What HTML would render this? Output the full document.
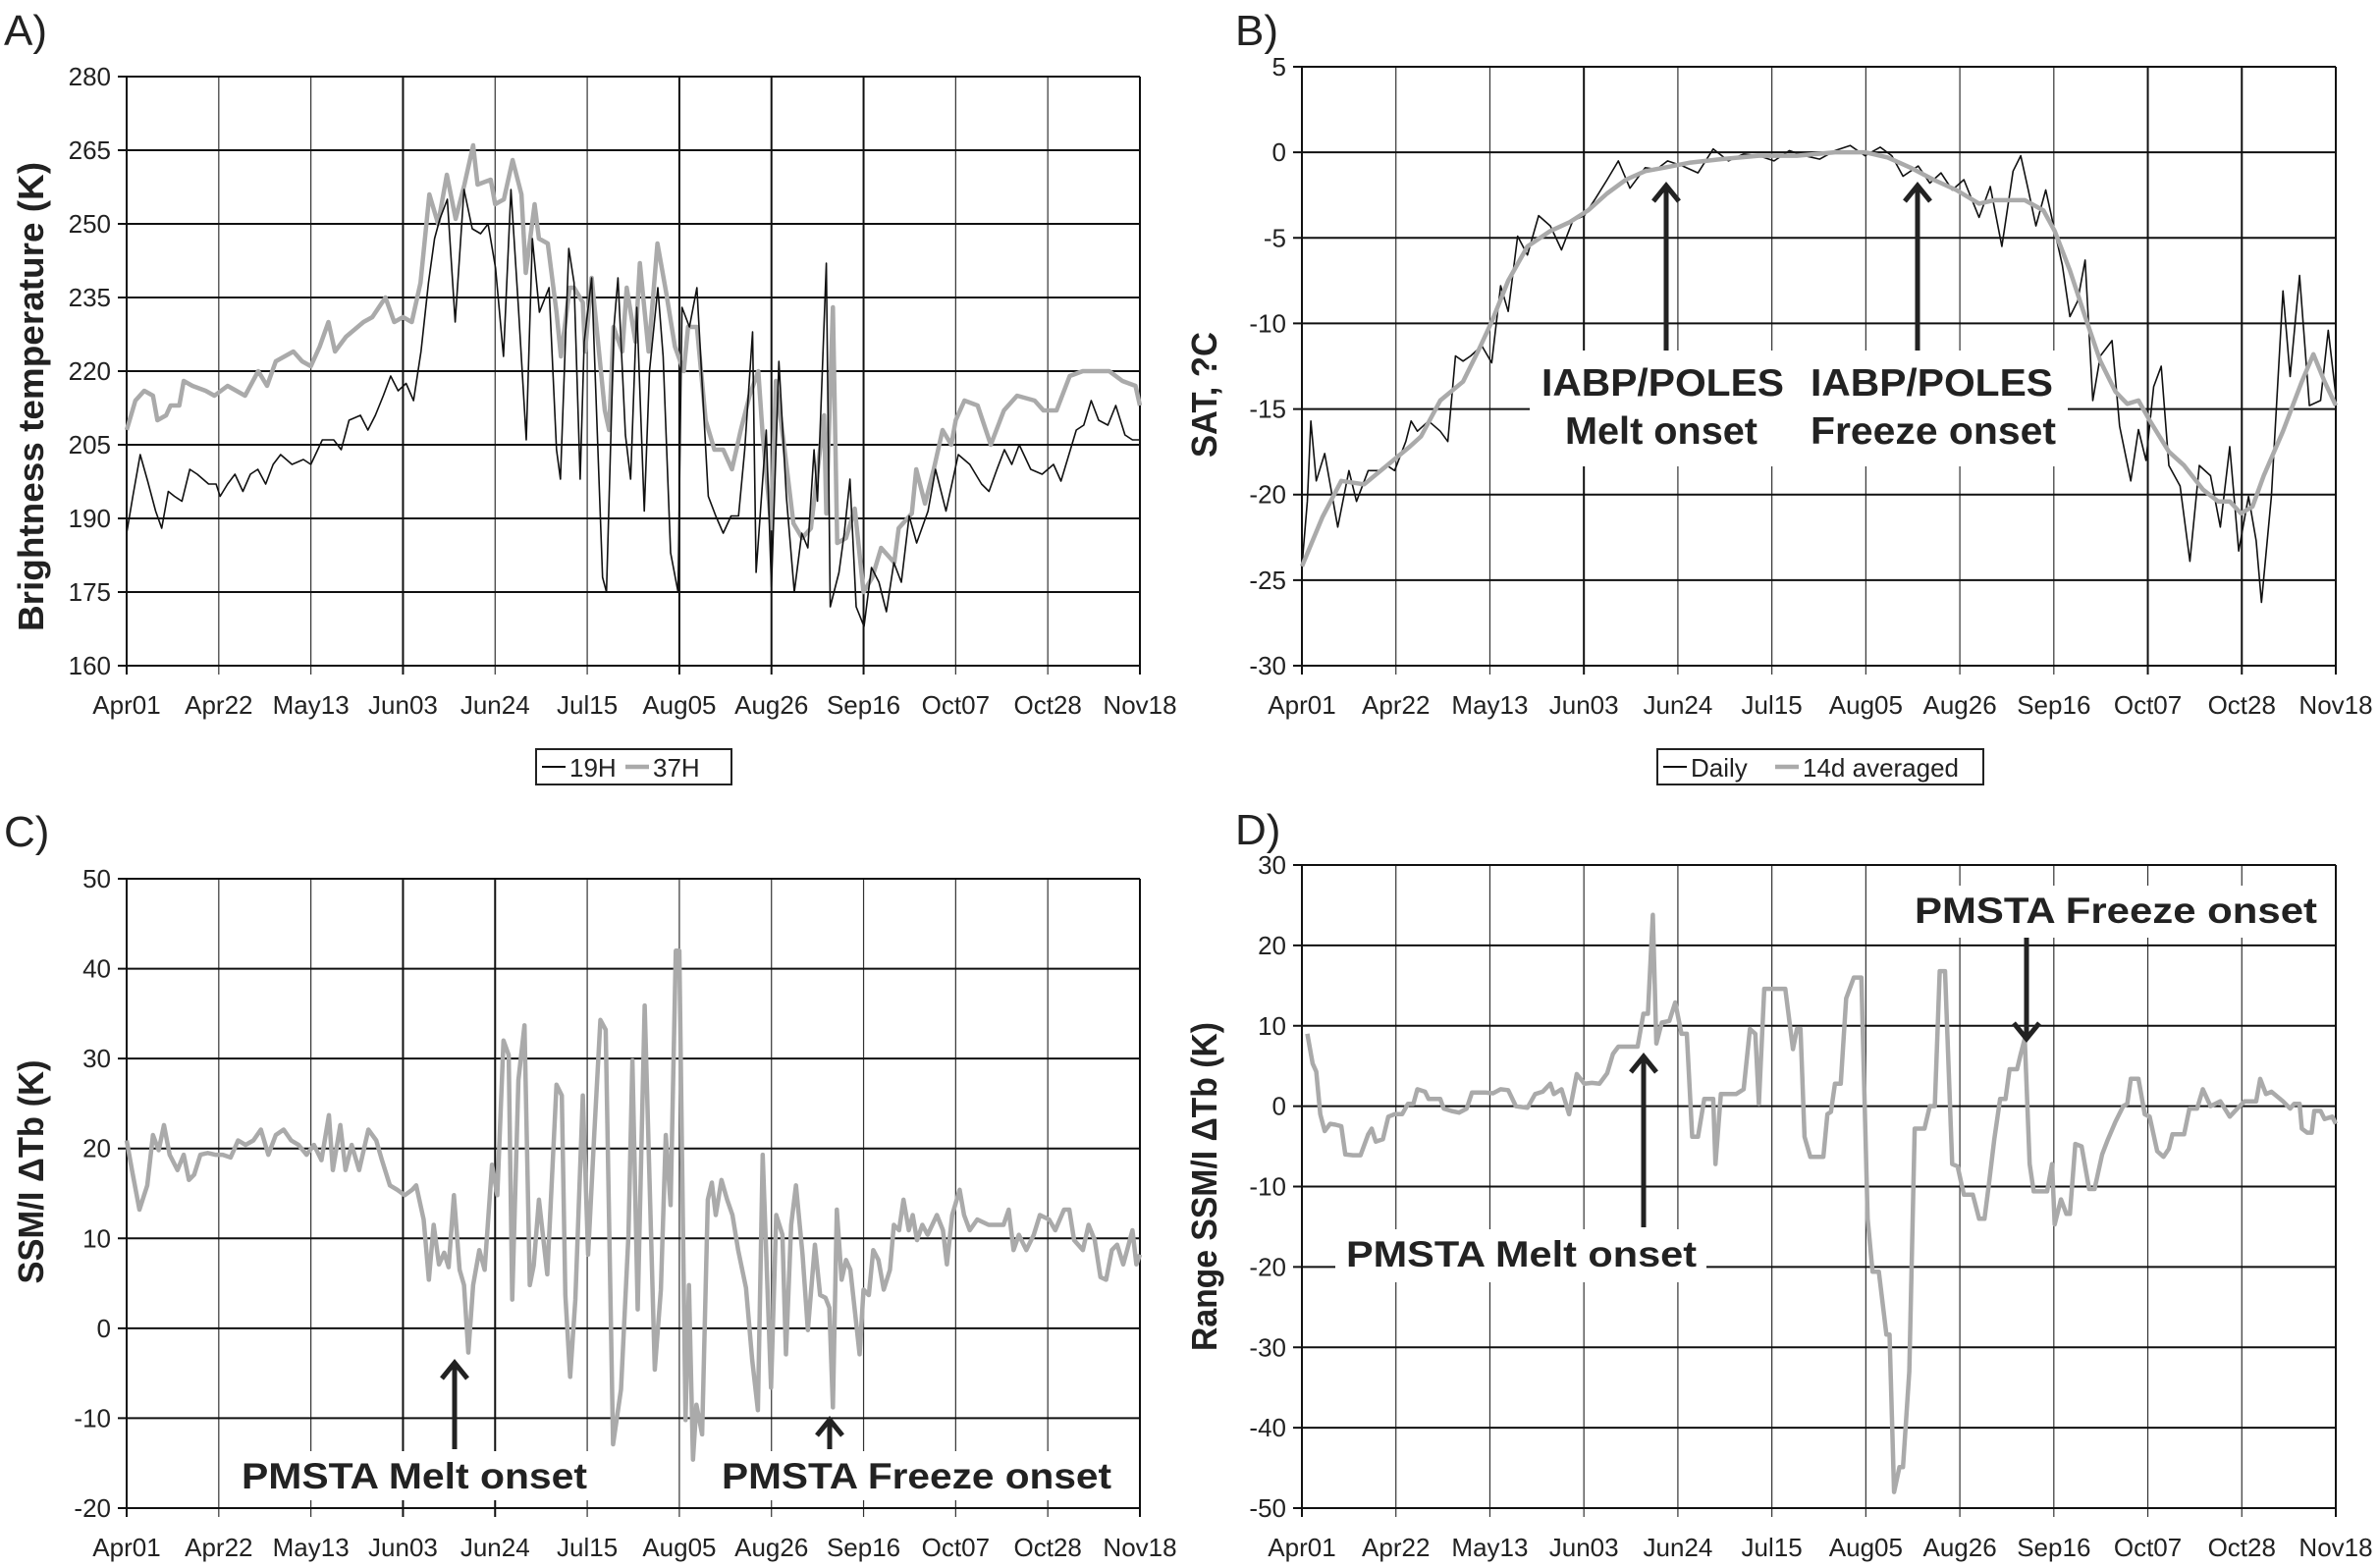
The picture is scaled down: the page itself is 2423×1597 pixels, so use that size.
<!DOCTYPE html>
<html><head><meta charset="utf-8">
<style>
html,body{margin:0;padding:0;background:#fff;}
svg{display:block;font-family:"Liberation Sans",Arial,sans-serif;}
</style></head>
<body>
<svg id="fig" width="2423" height="1597" viewBox="0 0 2423 1597" xmlns="http://www.w3.org/2000/svg"></svg>
<script>
// ---------- shared axis data ----------
const xTickDays = [0,21,42,63,84,105,126,147,168,189,210,231];
const xTickLabels = ['Apr01','Apr22','May13','Jun03','Jun24','Jul15','Aug05','Aug26','Sep16','Oct07','Oct28','Nov18'];
const xDayMax = 231;

// ---------- Panel A: brightness temperature ----------
const aTicks = [160,175,190,205,220,235,250,265,280];
const a19H = [[0,187],[1.4,194.5],[3.1,203],[4.8,197.6],[6.6,191.5],[8,188],[9.5,195.5],[10.9,194.5],[12.6,193.5],[14.4,200],[16.1,199],[18.7,197],[20.4,197],[21.3,194.5],[23,197],[24.7,199],[26.5,195.5],[28.2,199],[29.9,200],[31.7,197],[33.4,201],[35.1,203],[37.7,201],[40.3,202],[42,201],[44.6,206],[47.2,206],[48.9,204],[50.7,210],[53.3,211],[55,208],[56.7,211],[58.5,215],[60.2,219],[61.9,216],[63.7,217.5],[65.4,214],[67.1,224],[68.8,238],[70.2,247],[71.4,251],[73.1,255],[74.9,230],[76.9,257],[78.8,249],[80.7,248],[82.4,250],[84.1,241],[85.9,223],[87.6,257],[89.3,233],[91.1,206],[92.5,247],[94.1,232],[96.3,237],[98,204],[98.9,198],[100.8,245],[102,238],[103.4,198],[104.3,226],[106,239],[108.5,178],[109.4,175],[111.1,229],[112,239],[113.7,207],[114.9,198],[116.3,233],[118,191.5],[119.2,220],[121.1,237],[122.3,223],[124,183],[125.7,175],[126.6,233],[128.3,229],[130,237],[132.6,194.5],[134.3,190.5],[136,187],[137.8,190.5],[139.5,190.5],[140.9,204],[142.7,228],[143.5,179],[145.8,208],[147,176],[148.7,222],[150.4,194.5],[152.2,175],[153.9,187],[155.3,184],[156.7,204],[157.5,193.5],[159.5,242],[160.4,172],[162.4,179],[163.6,187],[164.9,198],[166.3,172],[168.1,168],[169.8,180],[171.5,177],[173.2,171],[174.9,181],[176.6,177],[178.4,190.5],[180.1,185],[182.7,191.5],[184.4,200],[186.8,191.5],[189.6,203],[192.2,201],[194.9,197],[196.6,195.5],[198.4,200],[200.1,204],[201.8,201],[203.5,205],[206.1,200],[208.7,199],[211.3,201],[213,197.6],[216.5,208],[218.2,209],[219.9,214],[221.6,210],[223.7,209],[225.5,213],[227.6,207],[229.3,206],[231,206]];
const a37H = [[0,208],[2,214],[4,216],[6,215],[7,210],[9,211],[10,213],[12,213],[13,218],[15,217],[18,216],[20,215],[23,217],[27,215],[30,220],[32,217],[34,222],[38,224],[40,222],[42,221],[44,225],[46,230],[47.5,224],[50,227],[54,230],[56,231],[59,235],[61,230],[63,231],[65,230],[67,238],[69,256],[71,250],[73,260],[75,251],[77,258],[79,266],[80,258],[83,259],[84,254],[86,255],[88,263],[90,256],[91,240],[93,254],[94,247],[96,246],[98,232],[99,223],[101,237],[102,237],[104,234],[104.5,224],[106,239],[109,212],[110,208],[111,229],[113,224],[114,237],[116,226],[117,242],[119,224],[121,246],[123,236],[125,225],[127,220],[128,229],[130,229],[132,210],[134,204],[136,204],[138,200],[140,208],[142,215],[144,220],[145,207],[147,188],[148,218],[150,204],[152,189],[154,186],[156,188],[159,211],[159.5,191],[161,233],[162,185],[164,186],[166,192],[168,175],[170,178],[172,184],[175,181],[176,188],[179,191],[180,200],[182,193],[184,200],[186,208],[188,205],[189,210],[191,214],[194,213],[197,205],[200,212],[203,215],[207,214],[209,212],[212,212],[215,219],[218,220],[220,220],[224,220],[227,218],[230,217],[231,213]];

// ---------- Panel B: SAT ----------
const bTicks = [-30,-25,-20,-15,-10,-5,0,5];
const bDaily = [[0,-24.2],[1.2,-20.4],[2,-15.7],[3.2,-19.2],[5.1,-17.6],[8,-21.9],[10.5,-18.6],[12.2,-20.4],[14.8,-18.6],[17.3,-18.6],[19,-18.3],[20.7,-18.6],[23.2,-16.9],[24.4,-15.7],[25.8,-16.3],[28.3,-15.7],[30.9,-16.3],[32.6,-16.9],[34.3,-11.9],[36,-12.2],[37.7,-11.9],[40.2,-11.3],[42.4,-12.3],[44.4,-7.8],[46.1,-9.3],[48.2,-4.9],[50.4,-6],[52.9,-3.7],[55.5,-4.3],[58,-5.7],[60.5,-4],[63.1,-3.7],[65.6,-2.7],[68.2,-1.6],[70.7,-0.5],[73.3,-2.1],[76.7,-0.9],[79.2,-1],[81.7,-0.5],[85.1,-0.8],[88.5,-1.2],[91.9,0.2],[95.3,-0.5],[98.7,-0.1],[102.1,-0.2],[105.5,-0.5],[108.9,0.1],[112.3,-0.2],[115.7,-0.4],[119.1,0.1],[122.5,0.4],[125.8,-0.2],[129.2,0.3],[131.8,-0.2],[134.3,-1.4],[137.7,-0.8],[140.3,-1.8],[142.8,-1.2],[145.3,-2.2],[147.9,-1.6],[151.3,-3.8],[153.8,-2],[156.4,-5.5],[158.9,-1.1],[160.6,-0.2],[162.3,-2.2],[164,-4.3],[166.2,-2.2],[168.2,-4.6],[169.9,-6.6],[171.6,-9.6],[173.3,-8.7],[175,-6.3],[176.7,-14.5],[178.4,-11.9],[181,-11],[182.7,-16],[185.2,-19.2],[186.9,-16.2],[188.6,-18],[190.3,-13.7],[192,-12.5],[193.7,-18.3],[196.2,-19.5],[198.4,-23.9],[200.5,-18.3],[203,-18.9],[205.2,-21.9],[207.3,-17.2],[209.3,-23.3],[211.5,-20.1],[213.2,-22.7],[214.4,-26.3],[216.6,-20.1],[219.2,-8.1],[220.8,-13.1],[222.9,-7.2],[225.1,-14.8],[227.6,-14.5],[229.3,-10.4],[231,-14.2]];
const b14d = [[0,-24.2],[4.6,-21.3],[8.8,-19.2],[13.9,-19.4],[19,-18.3],[24.1,-17.2],[26.6,-16.6],[30.9,-14.5],[36,-13.4],[39.4,-11.6],[42.4,-9.9],[46.1,-7.5],[50.4,-5.5],[55.5,-4.6],[59.7,-4.1],[63.9,-3.4],[68.2,-2.4],[72.4,-1.6],[76.7,-1.1],[80.9,-0.9],[86.8,-0.6],[93.6,-0.4],[102.1,-0.2],[110.6,-0.2],[119.1,0],[125.8,0],[130.9,-0.3],[136,-0.9],[141.1,-1.6],[146.2,-2.2],[151.3,-3],[154.7,-2.8],[161.5,-2.8],[165.7,-3.4],[168.2,-4.6],[171.6,-6.9],[175,-9.6],[178.4,-12.2],[181.8,-14],[184.4,-14.7],[186.9,-14.5],[189.5,-15.7],[193.7,-17.5],[197.1,-18.3],[201.3,-19.7],[204.7,-20.4],[207.3,-20.4],[209.8,-21.1],[212.4,-20.7],[214.9,-18.9],[219.2,-16.3],[223.4,-13.4],[226,-11.8],[228.5,-13.4],[231,-14.8]];

// ---------- Panel C: SSM/I dTb ----------
const cTicks = [-20,-10,0,10,20,30,40,50];
const cDelta = [[0,20.9],[1.2,17.6],[2.9,13.2],[4.7,15.9],[6,21.5],[7.3,19.8],[8.5,22.6],[9.8,19.3],[11.6,17.6],[13,19.3],[14.2,16.5],[15.4,17.1],[16.8,19.3],[18.5,19.5],[20.2,19.3],[21.9,19.3],[23.7,19],[25.4,20.9],[27.1,20.4],[28.9,20.9],[30.6,22.1],[32.3,19.3],[34,21.5],[35.8,22.1],[37.5,20.9],[39.2,20.4],[41,19.3],[42.7,20.4],[44.4,18.7],[46.1,23.7],[47,17.6],[48.7,22.6],[49.9,17.6],[51.3,20.4],[53,17.6],[55.1,22.1],[56.9,20.9],[58.2,18.7],[60,15.9],[61.7,15.4],[63.4,14.8],[65.1,15.4],[66,15.9],[67.7,12.1],[68.9,5.4],[70,11.5],[71.2,7.1],[72.4,8.4],[73.4,6.8],[74.6,14.8],[75.9,6.5],[76.9,4.8],[77.9,-2.7],[79,4.8],[80.4,8.7],[81.6,6.5],[83.3,18.2],[84.5,14.8],[85.9,32],[87.1,30.4],[87.9,3.2],[89.3,27.6],[90.7,33.7],[91.9,4.8],[92.8,7],[94,14.3],[95.9,6],[98,27.1],[99.2,25.9],[100,3.7],[101.1,-5.4],[102.3,3.2],[104,25.9],[105.2,8.2],[106.6,21.5],[108,34.3],[109.2,33.2],[110.9,-12.9],[112.7,-6.8],[114.4,10.4],[115.3,29.8],[116.5,2.1],[118.1,35.9],[120.4,-4.6],[121.8,4.3],[122.9,21.5],[124,13.7],[125.2,42],[126,42],[127.4,-10.2],[128.2,4.8],[129.1,-14.6],[129.9,-8.5],[131.2,-11.8],[132.5,14.3],[133.4,16.2],[134.3,12.6],[135.6,16.5],[136.9,14.3],[138.1,12.6],[139.4,8.7],[141.2,4.5],[142.6,-3.5],[143.9,-9.1],[145,19.3],[146.9,-6.6],[148.1,12.6],[149.5,10.4],[150.3,-2.9],[151.5,11.5],[152.6,15.9],[154.1,8.2],[155.3,-0.2],[156.9,9.3],[158.1,3.7],[159.3,3.4],[160.2,2.3],[161,-8.8],[161.9,13.2],[163,5.4],[164,7.6],[165,6.5],[167.1,-2.9],[168,4.3],[169.2,3.7],[170.2,8.7],[171.4,7.6],[172.6,4.3],[174,6.5],[174.9,11.5],[176.1,10.9],[177.1,14.3],[178.3,10.9],[179.2,12.6],[180.2,9.8],[181.4,11.5],[182.6,10.4],[184.7,12.6],[186.1,10.9],[187,7.1],[188.2,12.6],[189.9,15.4],[190.9,12.6],[192.2,10.9],[193.9,12.1],[196.5,11.5],[198.2,11.5],[199.9,11.5],[201.1,13.2],[202.2,8.7],[203.4,10.4],[205.1,8.7],[206.8,10.4],[208.2,12.6],[210.3,12.1],[211.7,10.9],[213.7,13.2],[214.9,13.2],[216,9.8],[218,8.7],[219.3,11.5],[220.7,9.8],[222,5.7],[223.3,5.4],[224.6,8.7],[225.8,9.3],[227.2,7.1],[228.1,8.7],[229.3,10.9],[230.2,7.1],[231,8.2]];

// ---------- Panel D: range SSM/I dTb ----------
const dTicks = [-50,-40,-30,-20,-10,0,10,20,30];
const dRange = [[1.2,9],[2.4,5.3],[3.2,4.3],[4.1,-1],[5.1,-3.1],[6.3,-2.2],[7.5,-2.3],[8.8,-2.5],[9.7,-6],[11.4,-6.1],[13.1,-6.1],[14.8,-3.5],[15.6,-2.8],[16.5,-4.4],[18.1,-4.1],[19.3,-1.3],[20.7,-1],[22.4,-1],[23.7,0.3],[24.9,0.3],[25.8,2.1],[27.5,1.8],[28.3,0.9],[30.9,0.9],[31.7,-0.3],[33.4,-0.6],[35.1,-0.8],[36.8,-0.3],[38,1.7],[39.4,1.7],[41,1.7],[42.7,1.6],[44.4,2.1],[46.1,2],[47.8,0],[50.4,-0.2],[52.1,1.5],[53.8,1.8],[55.5,2.8],[56.3,1.5],[58,2.1],[59.7,-1],[61.4,4],[63.1,2.8],[64.8,2.9],[66.5,2.8],[68.2,4.1],[69.5,6.5],[70.7,7.4],[75,7.4],[76.3,11.5],[77.3,11.5],[78.4,23.8],[79.2,7.8],[80.4,10.4],[82.1,10.6],[83.4,12.9],[84.8,9],[86,9],[87.2,-3.8],[88.5,-3.8],[89.9,0.9],[91.9,0.9],[92.4,-7.2],[93.6,1.5],[97,1.5],[98.7,2.1],[100.1,9.6],[101.3,9],[102.1,0.3],[103.3,14.6],[108,14.6],[109.7,7.1],[110.6,9.6],[111.4,9.6],[112.3,-3.8],[113.6,-6.3],[116.5,-6.3],[117.4,-1],[118.2,-0.7],[119.1,2.8],[120.4,2.8],[121.6,13.4],[123.3,16],[125,16],[126.4,-14],[127.5,-20.6],[128.9,-20.6],[130.6,-28.4],[131.3,-28.4],[132.3,-48],[133.5,-44.9],[134.3,-44.9],[135.7,-33],[136.9,-2.8],[139.1,-2.8],[140.3,0],[141.4,0],[142.5,16.8],[143.7,16.8],[145.3,-7.2],[146.5,-7.5],[147.9,-11],[149.9,-11],[151.3,-14],[152.5,-14],[153.5,-9.7],[154.7,-4.1],[156,0.9],[157.2,0.9],[158.1,4.6],[159.8,4.6],[160.6,6.5],[161.5,8.4],[162.6,-7.2],[163.5,-10.6],[166.5,-10.6],[167.6,-7.2],[168.2,-14.7],[169.6,-11.6],[170.8,-13.4],[171.6,-13.4],[172.8,-4.7],[174.2,-5],[175.9,-10.3],[177.1,-10.3],[178.8,-6],[180.1,-4.1],[181.8,-1.9],[183.5,0],[184.4,0.3],[185.2,3.4],[186.9,3.4],[188.3,-1],[189.4,-1.3],[191.1,-5.6],[192.5,-6.3],[193.7,-5.3],[194.5,-3.5],[197.1,-3.5],[198.3,-0.3],[200,-0.3],[201.3,2.1],[203,0],[205.2,0.6],[207.3,-1.3],[209,-0.3],[210.6,0.6],[213.2,0.6],[214.1,3.4],[215.4,1.5],[216.6,1.8],[219.2,0.6],[220.8,-0.3],[221.7,0.3],[222.9,0.3],[223.4,-2.8],[224.6,-3.3],[225.6,-3.3],[226.2,-0.6],[227.6,-0.6],[228.5,-1.6],[230.2,-1.3],[231,-2.2]];

// ---------- drawing ----------
const NS = 'http://www.w3.org/2000/svg';
const svg = document.getElementById('fig');
function mk(tag, attrs, parent){
  const e = document.createElementNS(NS, tag);
  for (const k in attrs) e.setAttribute(k, attrs[k]);
  (parent||svg).appendChild(e);
  return e;
}

function drawPanel(p){
  const g = mk('g', {});
  
  
  const xs = d => p.L + d / xDayMax * (p.R - p.L);
  const ys = v => p.T + (p.ymax - v) / (p.ymax - p.ymin) * (p.B - p.T);
  xTickDays.forEach((d, i) => {
    const x = xs(d);
    const heavy = p.heavyX.indexOf(d) >= 0;
    const ln = mk('line', {x1:x, y1:p.T, x2:x, y2:p.B + 9, stroke: heavy ? '#111' : '#333', 'stroke-width': heavy ? 2 : 1.2}, g);
    
    
    const t = mk('text', {x:x, y:p.B + 49, 'text-anchor':'middle', 'font-size':26, fill:'#222'}, g);
    t.textContent = xTickLabels[i];
    
    
  });
  p.ticks.forEach(v => {
    const y = ys(v);
    const ln = mk('line', {x1:p.L - 9, y1:y, x2:p.R, y2:y, stroke:'#111', 'stroke-width':2}, g);
    
    
    const t = mk('text', {x:p.L - 16, y:y + 9, 'text-anchor':'end', 'font-size':26, fill:'#222'}, g);
    t.textContent = String(v);
    
    
  });
  const ax = mk('line', {x1:p.L, y1:p.T, x2:p.L, y2:p.B + 9, stroke:'#111', 'stroke-width':2}, g);
  
  
  const ax2 = mk('line', {x1:p.R, y1:p.T, x2:p.R, y2:p.B + 9, stroke:'#111', 'stroke-width':2}, g);
  
  
  (p.boxes||[]).forEach(b => {
    const r = mk('rect', {x:b[0], y:b[1], width:b[2], height:b[3], fill:'#fff'}, g);
    
    
  });
  p.series.forEach(s => {
    const d = s.data.map((pt, i) => (i ? 'L' : 'M') + xs(pt[0]).toFixed(1) + ',' + ys(pt[1]).toFixed(1)).join(' ');
    const path = mk('path', {d:d, fill:'none', stroke:s.color, 'stroke-width':s.w, 'stroke-linejoin':'round'}, g);
    
    
  });
  const lt = mk('text', {x:p.letterX, y:p.letterY, 'font-size':44, fill:'#222'}, g);
  lt.textContent = p.letter;
  
  
  const yt = mk('text', {x:0, y:0, 'text-anchor':'middle', 'font-size':36, 'font-weight':'bold', fill:'#222',
    transform:'translate(' + p.titleX + ',' + ((p.T + p.B) / 2 + p.titleDy) + ') rotate(-90)',
    textLength:p.titleLen, lengthAdjust:'spacingAndGlyphs'}, g);
  yt.textContent = p.title;
  
  
  return g;
}

function arrow(x, y1, y2, name){
  const g = mk('g', {});
  
  
  mk('line', {x1:x, y1:y1, x2:x, y2:y2, stroke:'#222', 'stroke-width':5}, g);
  const dir = y2 < y1 ? 1 : -1;
  mk('polyline', {points:(x-13)+','+(y2+dir*17)+' '+x+','+(y2+1*dir)+' '+(x+13)+','+(y2+dir*17), fill:'none', stroke:'#222', 'stroke-width':5}, g);
}
function label(txt, x, y, size, len, anchor, name){
  const t = mk('text', {x:x, y:y, 'font-size':size, 'font-weight':'bold', fill:'#222', 'text-anchor':anchor||'start', textLength:len, lengthAdjust:'spacingAndGlyphs'});
  t.textContent = txt;
  
  
}

drawPanel({id:'a', L:129, R:1161, T:78, B:678, ymin:160, ymax:280, ticks:aTicks, heavyX:[63,126,147,168],
  letter:'A)', letterX:4, letterY:46, title:'Brightness temperature (K)', titleX:44, titleDy:26, titleLen:478,
  series:[{data:a37H, color:'#aaa', w:4.5, name:'series-37h'},{data:a19H, color:'#111', w:1.6, name:'series-19h'}]});
drawPanel({id:'b', L:1326, R:2379, T:68, B:678, ymin:-30, ymax:5, ticks:bTicks, heavyX:[63,189,210],
  letter:'B)', letterX:1258, letterY:46, title:'SAT, ?C', titleX:1239, titleDy:29, titleLen:128,
  boxes:[[1558,357,548,118]],
  series:[{data:bDaily, color:'#111', w:1.6, name:'series-daily'},{data:b14d, color:'#aaa', w:4.5, name:'series-14d-averaged'}]});
drawPanel({id:'c', L:129, R:1161, T:895, B:1536, ymin:-20, ymax:50, ticks:cTicks, heavyX:[63,84],
  letter:'C)', letterX:4, letterY:862, title:'SSM/I \u0394Tb (K)', titleX:44, titleDy:-22, titleLen:228,
  boxes:[[236,1478,372,50],[725,1478,418,50]],
  series:[{data:cDelta, color:'#aaa', w:4.5, name:'series-delta-tb'}]});
drawPanel({id:'d', L:1326, R:2379, T:881, B:1536, ymin:-50, ymax:30, ticks:dTicks, heavyX:[],
  letter:'D)', letterX:1258, letterY:860, title:'Range SSM/I \u0394Tb (K)', titleX:1239, titleDy:0, titleLen:335,
  boxes:[[1360,1252,378,54],[1942,902,427,53]],
  series:[{data:dRange, color:'#aaa', w:4.5, name:'series-range-delta-tb'}]});

arrow(1697, 357, 188, 'melt-onset-arrow-b');
arrow(1953, 357, 188, 'freeze-onset-arrow-b');
label('IABP/POLES', 1570, 403, 39, 247, 'start', 'iabp-melt-label');
label('Melt onset', 1594, 452, 39, 196, 'start', 'iabp-melt-onset-label');
label('IABP/POLES', 1844, 403, 39, 247, 'start', 'iabp-freeze-label');
label('Freeze onset', 1844, 452, 39, 250, 'start', 'iabp-freeze-onset-label');
arrow(463, 1476, 1387, 'melt-onset-arrow-c');
arrow(845, 1476, 1445, 'freeze-onset-arrow-c');
label('PMSTA Melt onset', 246, 1516, 37, 352, 'start', 'pmsta-melt-label-c');
label('PMSTA Freeze onset', 735, 1516, 37, 397, 'start', 'pmsta-freeze-label-c');
arrow(1674, 1250, 1075, 'melt-onset-arrow-d');
arrow(2064, 955, 1059, 'freeze-onset-arrow-d');
label('PMSTA Melt onset', 1371, 1290, 37, 357, 'start', 'pmsta-melt-label-d');
label('PMSTA Freeze onset', 1950, 940, 37, 410, 'start', 'pmsta-freeze-label-d');

function legend(x, y, w, entries, name){
  const g = mk('g', {});
  
  
  mk('rect', {x:x, y:y, width:w, height:36, fill:'#fff', stroke:'#222', 'stroke-width':2}, g);
  entries.forEach(e => {
    mk('line', {x1:e.x, y1:y+18, x2:e.x+24, y2:y+18, stroke:e.color, 'stroke-width':e.w}, g);
    const t = mk('text', {x:e.x+28, y:y+28, 'font-size':26, fill:'#222'}, g);
    t.textContent = e.text;
    
    
  });
}
legend(546, 763, 199, [{x:552, color:'#111', w:2, text:'19H'},{x:637, color:'#aaa', w:4.5, text:'37H'}], 'legend-a');
legend(1688, 763, 332, [{x:1694, color:'#111', w:2, text:'Daily'},{x:1808, color:'#aaa', w:4.5, text:'14d averaged'}], 'legend-b');
</script>
</body></html>
